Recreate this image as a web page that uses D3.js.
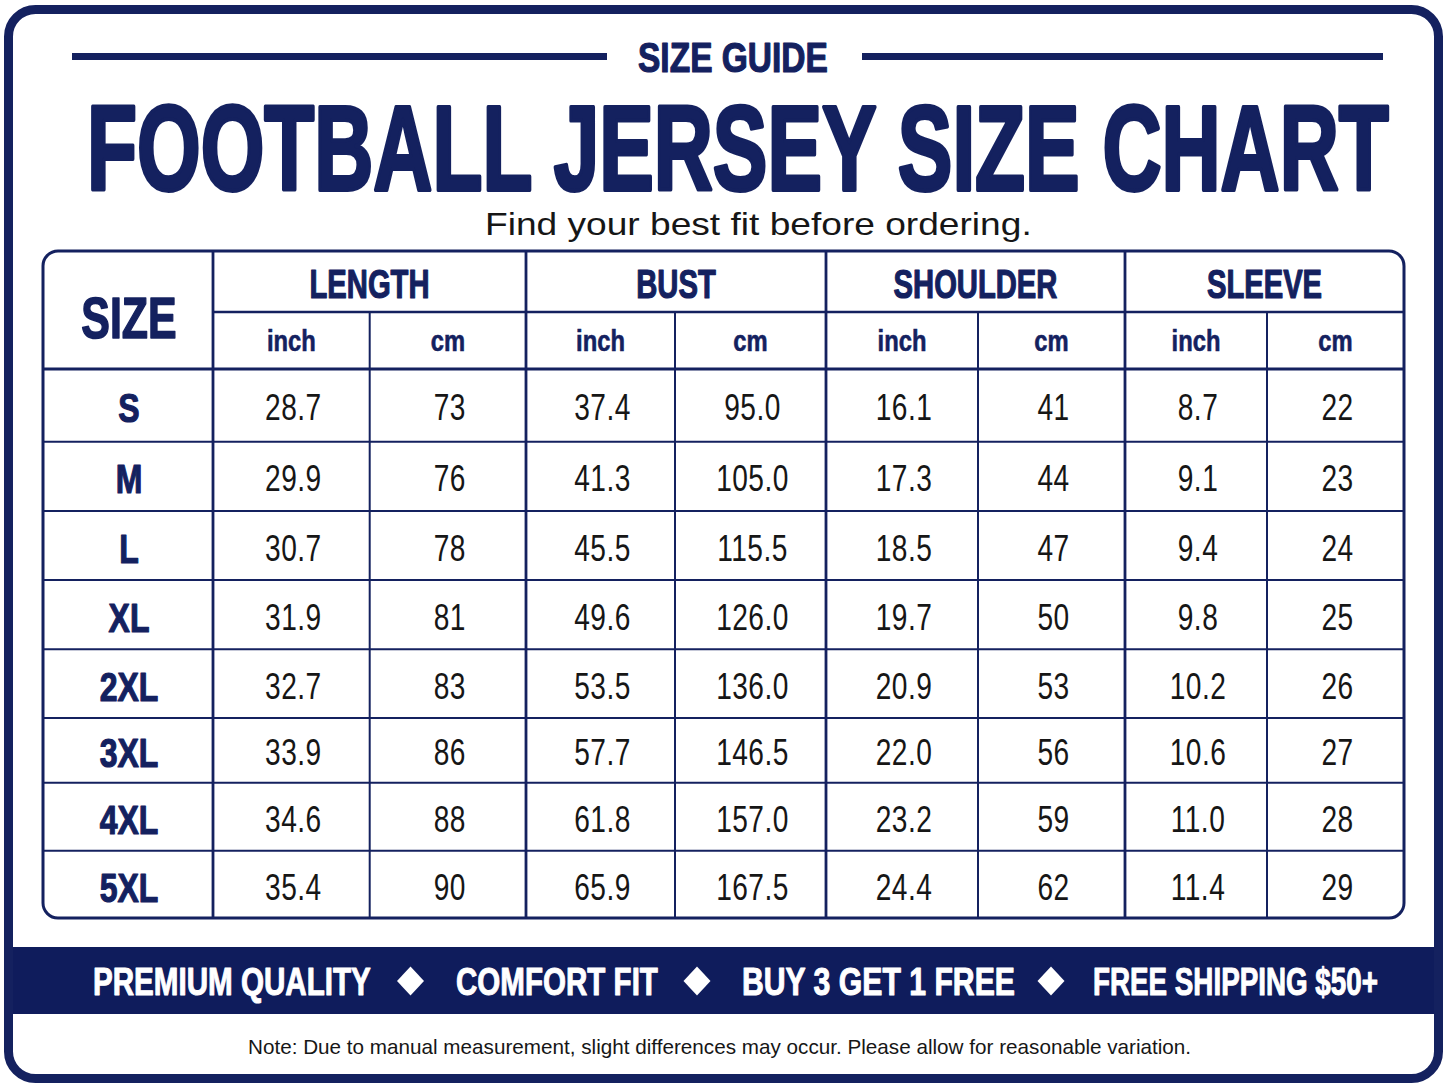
<!DOCTYPE html>
<html>
<head>
<meta charset="utf-8">
<script src="https://cdn.jsdelivr.net/npm/d3@7/dist/d3.min.js"></script>
<style>
  html, body { margin: 0; padding: 0; background: #ffffff; }
  svg { display: block; }
</style>
</head>
<body>
<svg id="chart" width="1447" height="1087"></svg>
<script>
// ---------- data ----------
const sizes = ["S", "M", "L", "XL", "2XL", "3XL", "4XL", "5XL"];
const measures = ["LENGTH", "BUST", "SHOULDER", "SLEEVE"];
const units = ["inch", "cm"];
const lengthInch = [28.7, 29.9, 30.7, 31.9, 32.7, 33.9, 34.6, 35.4];
const lengthCm = [73, 76, 78, 81, 83, 86, 88, 90];
const bustInch = [37.4, 41.3, 45.5, 49.6, 53.5, 57.7, 61.8, 65.9];
const bustCm = [95.0, 105.0, 115.5, 126.0, 136.0, 146.5, 157.0, 167.5];
const shoulderInch = [16.1, 17.3, 18.5, 19.7, 20.9, 22.0, 23.2, 24.4];
const shoulderCm = [41, 44, 47, 50, 53, 56, 59, 62];
const sleeveInch = [8.7, 9.1, 9.4, 9.8, 10.2, 10.6, 11.0, 11.4];
const sleeveCm = [22, 23, 24, 25, 26, 27, 28, 29];
const bannerItems = ["PREMIUM QUALITY", "COMFORT FIT", "BUY 3 GET 1 FREE", "FREE SHIPPING $50+"];
const kicker = "SIZE GUIDE";
const title = "FOOTBALL JERSEY SIZE CHART";
const subtitle = "Find your best fit before ordering.";
const note = "Note: Due to manual measurement, slight differences may occur. Please allow for reasonable variation.";

// ---------- layout / style ----------
const NAVY = "#14215f";
const INK = "#161616";
const SANS = "'Liberation Sans', Arial, 'DejaVu Sans', sans-serif";
const W = 1447, H = 1087;
const tbl = { x0: 43, x1: 1404, y0: 251, yHead1: 312, yHead2: 369, y1: 918 };
const sizeColW = 170;
const subColW = [[156.7, 156.3], [149, 151], [152, 147], [142, 137]];
const rowHeights = [72.7, 69.3, 69, 69.3, 68.7, 64.7, 68, 67.6];
const bannerSpans = [[93, 371], [456, 658], [742, 1015], [1093, 1378]];

const columns = [
  { m: "LENGTH", u: "inch", vals: lengthInch, fmt: ".1f" },
  { m: "LENGTH", u: "cm", vals: lengthCm, fmt: "d" },
  { m: "BUST", u: "inch", vals: bustInch, fmt: ".1f" },
  { m: "BUST", u: "cm", vals: bustCm, fmt: ".1f" },
  { m: "SHOULDER", u: "inch", vals: shoulderInch, fmt: ".1f" },
  { m: "SHOULDER", u: "cm", vals: shoulderCm, fmt: "d" },
  { m: "SLEEVE", u: "inch", vals: sleeveInch, fmt: ".1f" },
  { m: "SLEEVE", u: "cm", vals: sleeveCm, fmt: "d" }
];

// x positions of sub-columns via cumulative widths
const flatW = subColW.flat();
const colEdges = [tbl.x0 + sizeColW];
flatW.forEach(w => colEdges.push(colEdges[colEdges.length - 1] + w));
const colKeys = columns.map(c => c.m + "|" + c.u);
const xLeft = d3.scaleOrdinal().domain(colKeys).range(colEdges.slice(0, 8));
const xRight = d3.scaleOrdinal().domain(colKeys).range(colEdges.slice(1));
const groupLeft = d3.scaleOrdinal().domain(measures).range(measures.map((m, i) => colEdges[i * 2]));
const groupRight = d3.scaleOrdinal().domain(measures).range(measures.map((m, i) => colEdges[i * 2 + 2]));

// y positions of rows via cumulative heights
const rowEdges = [tbl.yHead2];
rowHeights.forEach(h => rowEdges.push(rowEdges[rowEdges.length - 1] + h));
const yTop = d3.scaleOrdinal().domain(sizes).range(rowEdges.slice(0, 8));
const yBot = d3.scaleOrdinal().domain(sizes).range(rowEdges.slice(1));
const yMid = s => (yTop(s) + yBot(s)) / 2;

const svg = d3.select("#chart");
svg.append("rect").attr("width", W).attr("height", H).attr("fill", "#ffffff");

// helper: condensed text via horizontal scale, centred
function condText(sel, cx, cy, sx) {
  return sel.attr("x", 0).attr("y", 0)
    .attr("text-anchor", "middle")
    .attr("transform", (d, i) => `translate(${typeof cx === "function" ? cx(d, i) : cx},${typeof cy === "function" ? cy(d, i) : cy}) scale(${sx},1)`);
}
// helper: fit a text to a given span by horizontal scale (after measuring)
function fitText(node, x0, y0, width) {
  const len = node.getComputedTextLength();
  d3.select(node).attr("x", 0).attr("y", 0)
    .attr("transform", `translate(${x0},${y0}) scale(${width / len},1)`);
}

// outer frame
svg.append("rect")
  .attr("x", 8.5).attr("y", 9.5).attr("width", 1430).attr("height", 1069)
  .attr("rx", 27).attr("ry", 27)
  .attr("fill", "#ffffff").attr("stroke", NAVY).attr("stroke-width", 9);

// kicker lines + text
svg.append("line").attr("x1", 72).attr("x2", 607).attr("y1", 56.5).attr("y2", 56.5)
  .attr("stroke", NAVY).attr("stroke-width", 7);
svg.append("line").attr("x1", 862).attr("x2", 1383).attr("y1", 56.5).attr("y2", 56.5)
  .attr("stroke", NAVY).attr("stroke-width", 7);
const kickerT = svg.append("text")
  .attr("font-family", SANS).attr("font-weight", "bold").attr("font-size", 42)
  .attr("fill", NAVY).attr("stroke", NAVY).attr("stroke-width", 1.2).attr("stroke-linejoin", "round")
  .text(kicker);
fitText(kickerT.node(), 638, 72, 190);

// title
const titleT = svg.append("text")
  .attr("font-family", SANS).attr("font-weight", "bold").attr("font-size", 120)
  .attr("fill", NAVY).attr("stroke", NAVY).attr("stroke-width", 4).attr("stroke-linejoin", "round")
  .text(title);
fitText(titleT.node(), 87, 190, 1302);

// subtitle
const subT = svg.append("text")
  .attr("font-family", SANS).attr("font-size", 31)
  .attr("fill", INK)
  .text(subtitle);
fitText(subT.node(), 485, 235, 547);

// ---------- table ----------
const g = svg.append("g");

// horizontal row lines
g.selectAll("line.row").data(sizes.slice(1)).join("line")
  .attr("x1", tbl.x0).attr("x2", tbl.x1)
  .attr("y1", d => yTop(d)).attr("y2", d => yTop(d))
  .attr("stroke", NAVY).attr("stroke-width", 2);

// header row1 divider
g.append("line").attr("x1", tbl.x0 + sizeColW).attr("x2", tbl.x1)
  .attr("y1", tbl.yHead1).attr("y2", tbl.yHead1)
  .attr("stroke", NAVY).attr("stroke-width", 2.6);
// header bottom
g.append("line").attr("x1", tbl.x0).attr("x2", tbl.x1)
  .attr("y1", tbl.yHead2).attr("y2", tbl.yHead2)
  .attr("stroke", NAVY).attr("stroke-width", 3);

// sub-column dividers (inch | cm)
g.selectAll("line.sub").data(measures).join("line")
  .attr("x1", d => xRight(d + "|inch")).attr("x2", d => xRight(d + "|inch"))
  .attr("y1", tbl.yHead1).attr("y2", tbl.y1)
  .attr("stroke", NAVY).attr("stroke-width", 2);

// group dividers
g.selectAll("line.grp").data(measures).join("line")
  .attr("x1", d => groupLeft(d)).attr("x2", d => groupLeft(d))
  .attr("y1", tbl.y0).attr("y2", tbl.y1)
  .attr("stroke", NAVY).attr("stroke-width", 2.8);

// outer table border
g.append("rect")
  .attr("x", tbl.x0).attr("y", tbl.y0)
  .attr("width", tbl.x1 - tbl.x0).attr("height", tbl.y1 - tbl.y0)
  .attr("rx", 15).attr("ry", 15)
  .attr("fill", "none").attr("stroke", NAVY).attr("stroke-width", 3);

// SIZE header
condText(g.append("text"), tbl.x0 + sizeColW / 2 + 1, 338, 0.74)
  .attr("font-family", SANS).attr("font-weight", "bold").attr("font-size", 58)
  .attr("fill", NAVY).attr("stroke", NAVY).attr("stroke-width", 1.6).attr("stroke-linejoin", "round")
  .text("SIZE");

// measure headers
condText(g.selectAll("text.m").data(measures).join("text"),
  d => (groupLeft(d) + groupRight(d)) / 2, 298, 0.73)
  .attr("font-family", SANS).attr("font-weight", "bold").attr("font-size", 40)
  .attr("fill", NAVY).attr("stroke", NAVY).attr("stroke-width", 1.2).attr("stroke-linejoin", "round")
  .text(d => d);

// unit headers
condText(g.selectAll("text.u").data(columns).join("text"),
  d => (xLeft(d.m + "|" + d.u) + xRight(d.m + "|" + d.u)) / 2, 351, 0.82)
  .attr("font-family", SANS).attr("font-weight", "bold").attr("font-size", 29)
  .attr("fill", NAVY).attr("stroke", NAVY).attr("stroke-width", 0.6)
  .text(d => d.u);

// size labels
condText(g.selectAll("text.size").data(sizes).join("text"),
  tbl.x0 + sizeColW / 2 + 1, d => yMid(d) + 17, 0.78)
  .attr("font-family", SANS).attr("font-weight", "bold").attr("font-size", 41)
  .attr("fill", NAVY).attr("stroke", NAVY).attr("stroke-width", 1.2).attr("stroke-linejoin", "round")
  .text(d => d);

// values
const cells = [];
columns.forEach(c => c.vals.forEach((v, i) => cells.push({ c, size: sizes[i], v })));
condText(g.selectAll("text.v").data(cells).join("text"),
  d => (xLeft(d.c.m + "|" + d.c.u) + xRight(d.c.m + "|" + d.c.u)) / 2 + 2,
  d => yMid(d.size) + 15, 0.76)
  .attr("font-family", SANS).attr("font-size", 37)
  .attr("letter-spacing", 0.6)
  .attr("fill", INK)
  .text(d => d3.format(d.c.fmt)(d.v));

// ---------- banner ----------
svg.append("rect").attr("x", 13).attr("y", 947).attr("width", 1421).attr("height", 67)
  .attr("fill", "#0f1c5c");

svg.selectAll("text.ban").data(bannerItems).join("text")
  .attr("font-family", SANS).attr("font-weight", "bold").attr("font-size", 38)
  .attr("fill", "#ffffff").attr("stroke", "#ffffff").attr("stroke-width", 1).attr("stroke-linejoin", "round")
  .text(d => d)
  .each(function (d, i) {
    fitText(this, bannerSpans[i][0], 995, bannerSpans[i][1] - bannerSpans[i][0]);
  });

// diamonds between items
svg.selectAll("path.dia").data(bannerItems.slice(1)).join("path")
  .attr("d", (d, i) => {
    const cx = (bannerSpans[i][1] + bannerSpans[i + 1][0]) / 2 - 3;
    const cy = 981;
    return `M${cx},${cy - 14.5}L${cx + 13.5},${cy}L${cx},${cy + 14.5}L${cx - 13.5},${cy}Z`;
  })
  .attr("fill", "#ffffff");

// note
const noteT = svg.append("text")
  .attr("font-family", SANS).attr("font-size", 21)
  .attr("fill", INK)
  .text(note);
fitText(noteT.node(), 248, 1054, 944);
</script>
</body>
</html>
